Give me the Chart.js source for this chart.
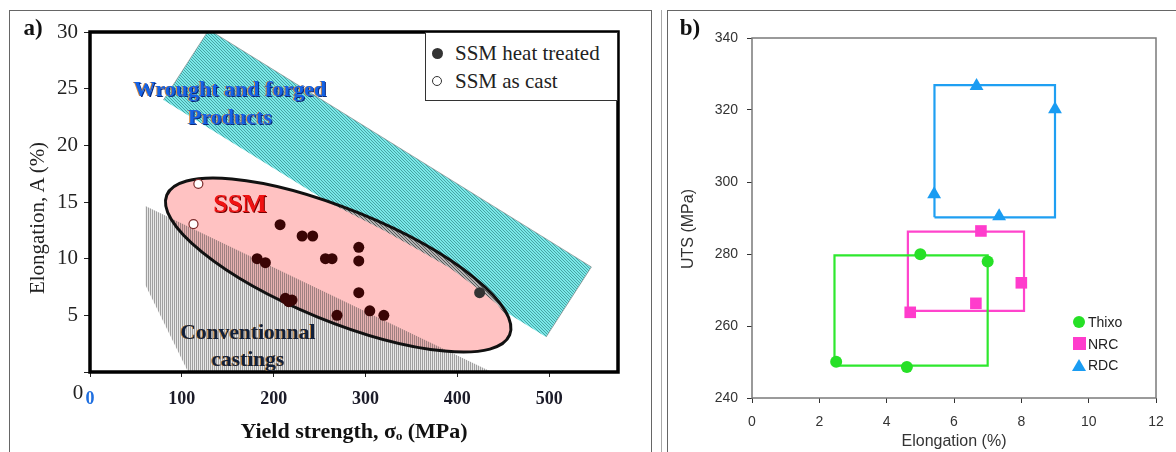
<!DOCTYPE html>
<html>
<head>
<meta charset="utf-8">
<script src="https://cdn.jsdelivr.net/npm/chart.js@4.4.0/dist/chart.umd.min.js"></script>
<style>
  body { margin: 0; width: 1176px; height: 452px; overflow: hidden; position: relative; background: #fff; }
  canvas { position: absolute; }
  #chartA { left: 0; top: 0; }
  #chartB { left: 668px; top: 10px; }
  .frame { position: absolute; top: 10px; height: 460px; border: 1px solid #666; border-bottom: none; }
  #frameA { left: 9px; width: 641px; }
  #frameB { left: 667px; width: 540px; }
  #sep { position: absolute; left: 661px; top: 10px; height: 460px; border-left: 1px solid #aaa; }
  .t { position: absolute; white-space: nowrap; line-height: 1; transform: translate(-50%, -50%); }
  .rot { transform: translate(-50%, -50%) rotate(-90deg); }
  .serif { font-family: 'Liberation Serif', 'Times New Roman', serif; }
  .sans { font-family: 'Liberation Sans', Arial, sans-serif; }
  .wrought { font-weight: bold; font-size: 22px; color: #1462e6; text-shadow: -1px 0 0 #d98a3a, 1px 1px 0 #0b2a7a; }
  .conv { font-weight: bold; font-size: 21.5px; color: #10203c; text-shadow: -1px 0 0 #c8863a; }
  #legendA { position: absolute; left: 425px; top: 32px; width: 191px; height: 67px; border: 1px solid #333; background: #fff; }
  .lgA { position: absolute; left: 29px; font-size: 21px; color: #222; line-height: 1; }
  .dot { position: absolute; border-radius: 50%; box-sizing: border-box; }
  .lgB { position: absolute; font-size: 14px; color: #222; line-height: 1; }
</style>
</head>
<body>
<div class="frame" id="frameA"></div>
<div id="sep"></div>
<div class="frame" id="frameB"></div>
<canvas id="chartA" width="655" height="452"></canvas>
<canvas id="chartB" width="508" height="442"></canvas>

<div class="t serif" style="left:33px;top:27px;font-weight:bold;font-size:23px;color:#111">a)</div>
<div class="t serif rot" style="left:37px;top:218px;font-size:21px;color:#222">Elongation, A (%)</div>
<div class="t serif wrought" style="left:230px;top:89px">Wrought and forged</div>
<div class="t serif wrought" style="left:230px;top:117px">Products</div>
<div class="t serif" style="left:240px;top:204px;font-weight:bold;font-size:26px;color:#f01212;text-shadow:1px 1px 0 #700">SSM</div>
<div class="t serif conv" style="left:248px;top:333px">Conventionnal</div>
<div class="t serif conv" style="left:248px;top:360px">castings</div>
<div class="t serif" style="left:78px;top:392px;font-size:21px;color:#222">0</div>

<div id="legendA" class="serif">
  <div class="dot" style="left:6px;top:15px;width:11px;height:11px;background:#333"></div>
  <div class="lgA" style="top:10px">SSM heat treated</div>
  <div class="dot" style="left:6px;top:43px;width:10px;height:10px;border:1.5px solid #333;background:#fff"></div>
  <div class="lgA" style="top:38px">SSM as cast</div>
</div>

<div class="t serif" style="left:690px;top:27px;font-weight:bold;font-size:23px;color:#111">b)</div>
<div class="t sans rot" style="left:688px;top:229px;font-size:16px;color:#333">UTS (MPa)</div>
<div class="dot" style="left:1073px;top:316px;width:12px;height:12px;background:#26e026"></div>
<div class="lgB sans" style="left:1088px;top:315px">Thixo</div>
<div class="dot" style="left:1073px;top:337px;width:13px;height:13px;border-radius:0;background:#ff3ccc"></div>
<div class="lgB sans" style="left:1088px;top:337px">NRC</div>
<div style="position:absolute;left:1072px;top:359px;width:0;height:0;border-left:7px solid transparent;border-right:7px solid transparent;border-bottom:12px solid #1a9cf2"></div>
<div class="lgB sans" style="left:1088px;top:358px">RDC</div>

<script>
// ---- panel a: yield strength (MPa) vs elongation (%) ----
const heatYield = [207, 231, 242.5, 182, 191, 212.7, 220, 216.4, 256.4, 263.6, 269, 292.7, 292.7, 292.7, 304.7, 320, 424.3];
const heatElong = [13.0, 12.0, 12.0, 10.0, 9.65, 6.5, 6.35, 6.2, 10.0, 10.0, 5.0, 11.0, 9.8, 7.0, 5.4, 5.0, 7.0];
const castYield = [118, 112.7];
const castElong = [16.6, 13.05];

// region outlines (data units)
const wroughtYield = [80, 129.5, 546, 496.7];
const wroughtElong = [24.0, 30.2, 9.27, 3.09];
const convYield = [60.3, 489, 119, 60.3];
const convElong = [14.65, -2, -2, 7.68];
// grey hatched rim inside the top-right of the SSM ellipse
const rimYield = [255.9, 326.7, 402.9, 468.3, 479.1, 460.6, 455.2, 443.2, 421.4, 392.0, 356.1, 319.1, 261.4];
const rimElong = [16.24, 15.18, 12.09, 7.24, 3.26, 3.88, 4.76, 6.0, 7.41, 9.18, 10.85, 12.53, 14.91];
// SSM ellipse: centre, end of long axis, end of short axis
const ssmCentre = [270.3, 9.44];
const ssmLongEnd = [457, 3.27];
const ssmShortEnd = [293.6, 14.0];

// ---- panel b: elongation (%) vs UTS (MPa) ----
const thixoElong = [2.5, 4.6, 5.0, 7.0];
const thixoUts = [250.1, 248.6, 279.9, 277.9];
const nrcElong = [4.7, 6.8, 6.65, 8.0];
const nrcUts = [263.8, 286.4, 266.3, 272.0];
const rdcElong = [6.67, 9.0, 5.41, 7.34];
const rdcUts = [326.7, 320.2, 296.6, 290.5];
const thixoBoxElong = [2.45, 2.45, 7.0, 7.0, 2.45];
const thixoBoxUts = [249.0, 279.6, 279.6, 249.0, 249.0];
const nrcBoxElong = [4.63, 4.63, 8.08, 8.08, 4.63];
const nrcBoxUts = [264.2, 286.2, 286.2, 264.2, 264.2];
const rdcBoxElong = [5.42, 5.42, 9.0, 9.0, 5.42];
const rdcBoxUts = [290.2, 326.9, 326.9, 290.2, 290.2];

const pts = (xs, ys) => xs.map((x, i) => ({ x, y: ys[i] }));
const serif = "'Liberation Serif', 'Times New Roman', serif";
const sans = "'Liberation Sans', Arial, sans-serif";

function stripes(w, h, bg, fg, on) {
    const c = document.createElement('canvas');
    c.width = w; c.height = h;
    const g = c.getContext('2d');
    if (bg) { g.fillStyle = bg; g.fillRect(0, 0, w, h); }
    g.fillStyle = fg;
    for (let j = 0; j < h; j++) {
        for (let i = 0; i < w; i++) {
            if (on(i, j)) g.fillRect(i, j, 1, 1);
        }
    }
    return g.createPattern(c, 'repeat');
}
const cyanFill = stripes(3, 3, '#7ae8e8', '#47a3a3', (i, j) => i === j % 3);
const rimFill = stripes(3, 3, '#b2b2b2', '#575757', (i, j) => i === j % 3);
const convFill = stripes(2, 1, 'rgba(60,60,60,0.12)', 'rgba(60,60,60,0.42)', (i) => i === 0);

function ssmPath(chart) {
    const { ctx, scales: { x, y } } = chart;
    const px = p => [x.getPixelForValue(p[0]), y.getPixelForValue(p[1])];
    const c = px(ssmCentre), m = px(ssmLongEnd), n = px(ssmShortEnd);
    ctx.beginPath();
    ctx.ellipse(c[0], c[1], Math.hypot(m[0] - c[0], m[1] - c[1]), Math.hypot(n[0] - c[0], n[1] - c[1]),
        Math.atan2(m[1] - c[1], m[0] - c[0]), 0, Math.PI * 2);
}

// datasets: 0 heat treated, 1 as cast, 2 castings band, 3 rim, 4 wrought band (drawn 4 -> 0)
const regionsPlugin = {
    id: 'regions',
    afterDatasetDraw(chart, args) {
        const ctx = chart.ctx;
        if (args.index === 4) {
            ctx.save();
            ssmPath(chart);
            ctx.fillStyle = '#ffc2c2';
            ctx.fill();
            ctx.restore();
            ctx.save();           // rim is kept inside the ellipse
            ssmPath(chart);
            ctx.clip();
        }
        if (args.index === 3) {
            ctx.restore();
        }
        if (args.index === 2) {
            ctx.save();
            ssmPath(chart);
            ctx.lineWidth = 3;
            ctx.strokeStyle = '#111';
            ctx.stroke();
            ctx.restore();
        }
    },
    afterDatasetsDraw(chart) {
        const { ctx, chartArea: a } = chart;
        ctx.save();
        ctx.lineWidth = 3.5;
        ctx.strokeStyle = '#000';
        ctx.strokeRect(a.left, a.top, a.right - a.left, a.bottom - a.top);
        ctx.restore();
    }
};

const area = (data, fill, edge) => ({
    data, showLine: true, fill: 'shape', backgroundColor: fill,
    borderColor: edge || 'rgba(0,0,0,0)', borderWidth: edge ? 1 : 0, pointRadius: 0, tension: 0
});

new Chart(document.getElementById('chartA'), {
    type: 'scatter',
    data: {
        datasets: [
            {
                label: 'SSM heat treated',
                data: pts(heatYield, heatElong),
                pointRadius: 5.5,
                borderWidth: 0,
                backgroundColor: ctx => (ctx.raw && ctx.raw.x > 400 ? '#333' : '#3a0505'),
            },
            {
                label: 'SSM as cast',
                data: pts(castYield, castElong),
                pointRadius: 4.5,
                borderWidth: 1.2,
                backgroundColor: '#fff',
                borderColor: '#7a2a2a',
            },
            area(pts(convYield, convElong), convFill),
            area(pts(rimYield, rimElong), rimFill),
            area(pts(wroughtYield, wroughtElong), cyanFill, 'rgba(120,120,120,0.6)'),
        ],
    },
    options: {
        responsive: false,
        animation: false,
        layout: { padding: { left: 0, top: 32, right: 37, bottom: 0 } },
        plugins: { legend: { display: false }, tooltip: { enabled: false } },
        scales: {
            x: {
                type: 'linear', min: 0, max: 575,
                afterFit: s => { s.height = 80; },
                ticks: {
                    stepSize: 100, includeBounds: false, padding: 12,
                    font: { family: serif, size: 18, weight: 'bold' },
                    color: ctx => (ctx.tick && ctx.tick.value === 0 ? '#1f6fe0' : '#1b1b28'),
                },
                grid: { drawOnChartArea: false, tickLength: 5, color: '#222' },
                border: { display: false },
                title: {
                    display: true, text: 'Yield strength, σₒ (MPa)', color: '#111',
                    font: { family: serif, size: 22, weight: 'bold' },
                    padding: { top: 0, bottom: 6 },
                },
            },
            y: {
                min: 0, max: 30,
                afterFit: s => { s.width = 90; },
                ticks: {
                    stepSize: 5, padding: 6, color: '#222',
                    font: { family: serif, size: 21 },
                    callback: v => (v === 0 ? '' : v),
                },
                grid: { drawOnChartArea: false, tickLength: 6, color: '#222' },
                border: { display: false },
            },
        },
    },
    plugins: [regionsPlugin],
});

// panel b
const framePlugin = {
    id: 'frame',
    afterDatasetsDraw(chart) {
        const { ctx, chartArea: a } = chart;
        ctx.save();
        ctx.lineWidth = 1.5;
        ctx.strokeStyle = '#7a7a7a';
        ctx.strokeRect(a.left, a.top, a.right - a.left, a.bottom - a.top);
        ctx.restore();
    }
};

const box = (data, color) => ({
    data, showLine: true, fill: false, borderColor: color, borderWidth: 2.2,
    pointRadius: 0, tension: 0
});
const marks = (label, data, color, style, r) => ({
    label, data, pointStyle: style, pointRadius: r, backgroundColor: color, borderColor: color, borderWidth: 0
});

new Chart(document.getElementById('chartB'), {
    type: 'scatter',
    data: {
        datasets: [
            marks('Thixo', pts(thixoElong, thixoUts), '#26e026', 'circle', 6),
            marks('NRC', pts(nrcElong, nrcUts), '#ff3ccc', 'rect', 8.2),
            marks('RDC', pts(rdcElong, rdcUts), '#1a9cf2', 'triangle', 8),
            box(pts(thixoBoxElong, thixoBoxUts), '#2ee82e'),
            box(pts(nrcBoxElong, nrcBoxUts), '#ff44cc'),
            box(pts(rdcBoxElong, rdcBoxUts), '#1f9ff2'),
        ],
    },
    options: {
        responsive: false,
        animation: false,
        layout: { padding: { left: 0, top: 28, right: 20, bottom: 0 } },
        plugins: { legend: { display: false }, tooltip: { enabled: false } },
        scales: {
            x: {
                type: 'linear', min: 0, max: 12,
                afterFit: s => { s.height = 54; },
                ticks: { stepSize: 2, padding: 11, color: '#333', font: { family: sans, size: 14 } },
                grid: { drawOnChartArea: false, tickLength: 5, color: '#333' },
                border: { display: false },
                title: {
                    display: true, text: 'Elongation (%)', color: '#333',
                    font: { family: sans, size: 16 }, padding: { top: 0, bottom: 0.5 },
                },
            },
            y: {
                min: 240, max: 340,
                afterFit: s => { s.width = 84; },
                ticks: { stepSize: 20, padding: 9, color: '#333', font: { family: sans, size: 14 } },
                grid: { drawOnChartArea: false, tickLength: 5, color: '#333' },
                border: { display: false },
            },
        },
    },
    plugins: [framePlugin],
});
</script>
</body>
</html>
